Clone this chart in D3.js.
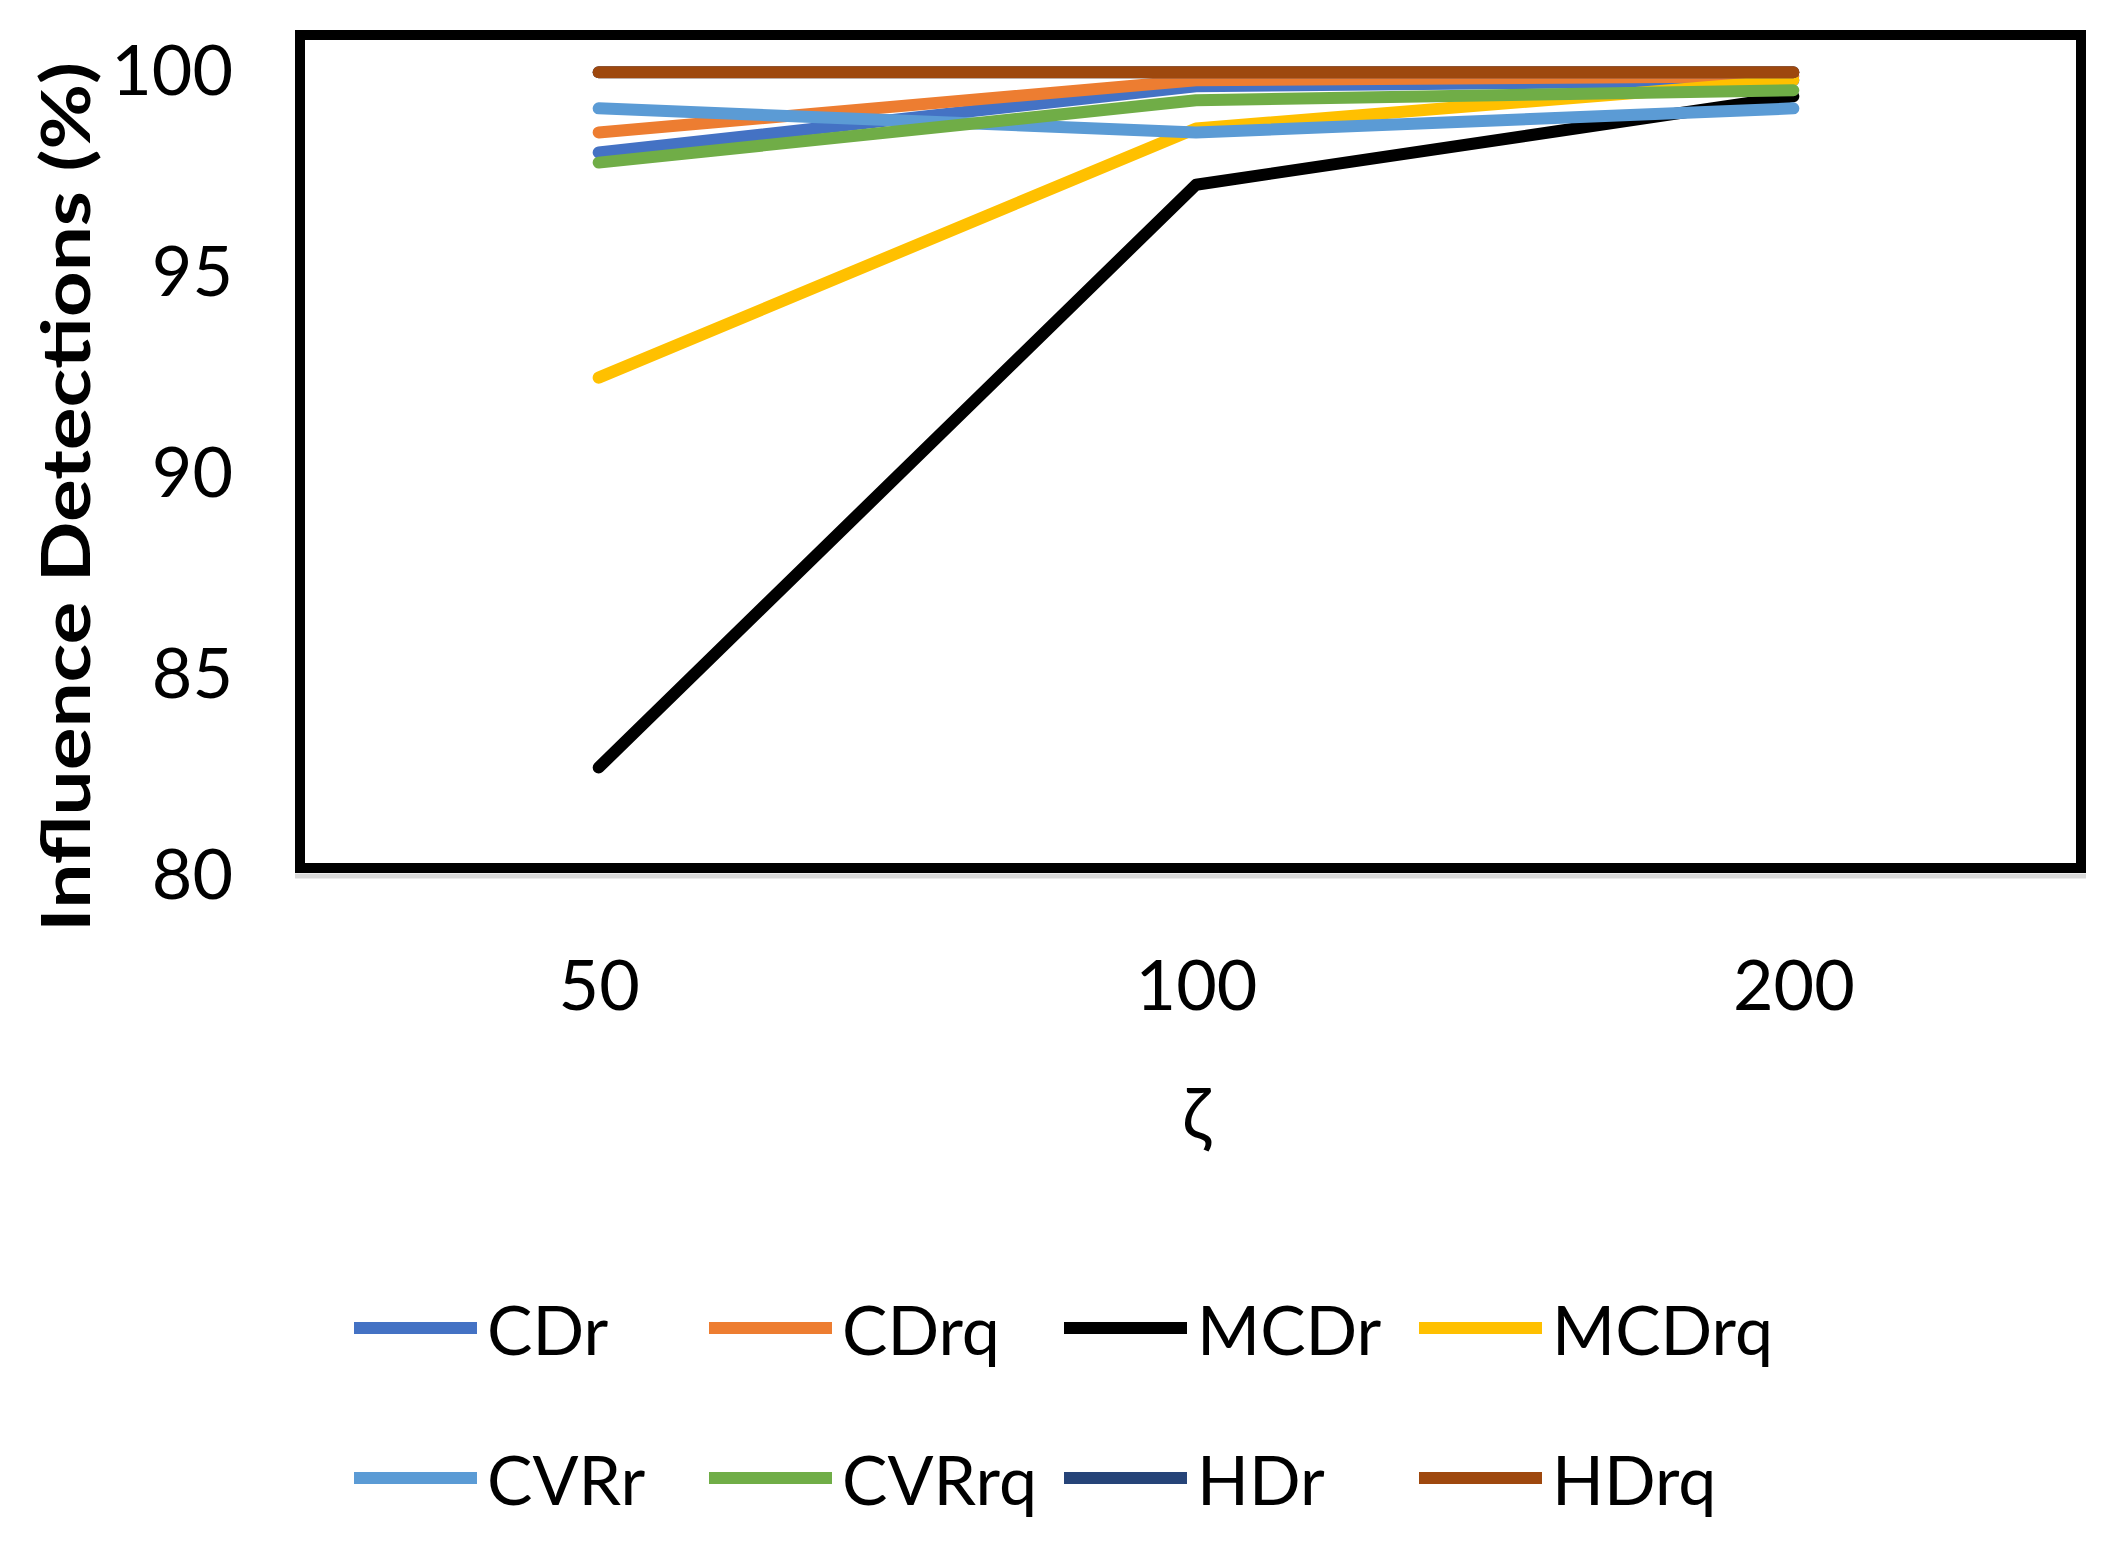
<!doctype html>
<html>
<head>
    <style>
        body { margin: 0; background: #fff; }
        text { font-family: Lato, "Noto Sans", sans-serif; fill: #000; }
        .series { fill: none; stroke-width: 12; stroke-linejoin: round; stroke-linecap: round; }
    </style>
    <script src="https://d3js.org/d3.v7.min.js"></script>
</head>
<body>
<svg width="2109" height="1550"></svg>
<script>
// values, one array per series
var categories = ["50", "100", "200"];
var yTicks = [80, 85, 90, 95, 100];

var CDr   = [98.0, 99.65, 99.8];
var CDrq  = [98.5, 99.8, 99.9];
var MCDr  = [82.7, 97.2, 99.4];
var MCDrq = [92.4, 98.6, 99.8];
var CVRr  = [99.1, 98.5, 99.1];
var CVRrq = [97.75, 99.3, 99.55];
var HDr   = [100, 100, 100];
var HDrq  = [100, 100, 100];

var seriesNames = ["CDr", "CDrq", "MCDr", "MCDrq", "CVRr", "CVRrq", "HDr", "HDrq"];
var seriesValues = [CDr, CDrq, MCDr, MCDrq, CVRr, CVRrq, HDr, HDrq];
var colors = ["#4472C4", "#ED7D31", "#000000", "#FFC000", "#5B9BD5", "#70AD47", "#264478", "#9E480E"];

var svg = d3.select("svg");

// plot area edges (window.top is taken, so own names)
var plotLeft = 300, plotRight = 2092, plotTop = 32, plotBottom = 876;
var frameRight = 2081;

var xScale = d3.scalePoint().domain(categories).range([plotLeft, plotRight]).padding(0.5);
var yScale = d3.scaleLinear().domain([80, 101]).range([plotBottom, plotTop]);

// plot frame
svg.append("rect")
   .attr("x", plotLeft).attr("y", 35)
   .attr("width", frameRight - plotLeft).attr("height", 833)
   .attr("fill", "#fff")
   .attr("stroke", "#000")
   .attr("stroke-width", 10);

// category axis line
svg.append("line")
   .attr("x1", plotLeft - 5).attr("x2", frameRight + 5)
   .attr("y1", plotBottom).attr("y2", plotBottom)
   .attr("stroke", "#D9D9D9")
   .attr("stroke-width", 5);

var yAxis = svg.append("g")
   .attr("transform", "translate(" + plotLeft + ",0)")
   .call(d3.axisLeft(yScale).tickValues(yTicks).tickSize(0).tickPadding(67));
yAxis.select(".domain").remove();
yAxis.selectAll("text").style("font-size", "70px");

var xAxis = svg.append("g")
   .attr("transform", "translate(0," + plotBottom + ")")
   .call(d3.axisBottom(xScale).tickSize(0).tickPadding(84));
xAxis.select(".domain").remove();
xAxis.selectAll("text").style("font-size", "70px");

// axis titles
svg.append("text")
   .attr("transform", "translate(90,497) rotate(-90)")
   .attr("textLength", 870)
   .attr("lengthAdjust", "spacingAndGlyphs")
   .style("text-anchor", "middle")
   .style("font-size", "66px")
   .style("font-weight", "bold")
   .text("Influence Detections (%)");

svg.append("text")
   .attr("x", xScale("100"))
   .attr("y", 1140)
   .style("text-anchor", "middle")
   .style("font-size", "72px")
   .text("ζ");

var line = d3.line()
   .x(function(d, i) { return xScale(categories[i]); })
   .y(function(d) { return yScale(d); });

svg.selectAll(".series")
   .data(seriesValues)
   .enter().append("path")
   .attr("class", "series")
   .attr("d", line)
   .style("stroke", function(d, i) { return colors[i]; });

// legend, 4 per row
var legend = svg.selectAll(".legend")
   .data(seriesNames)
   .enter().append("g")
   .attr("class", "legend")
   .attr("transform", function(d, i) {
       return "translate(" + (354 + (i % 4) * 355) + "," + (i < 4 ? 1328 : 1478) + ")";
   });

legend.append("line")
   .attr("x1", 0).attr("x2", 123)
   .attr("y1", 0).attr("y2", 0)
   .attr("stroke-width", 12)
   .style("stroke", function(d, i) { return colors[i]; });

legend.append("text")
   .attr("x", 133)
   .attr("y", 27)
   .style("font-size", "68px")
   .text(function(d) { return d; });
</script>
</body>
</html>
